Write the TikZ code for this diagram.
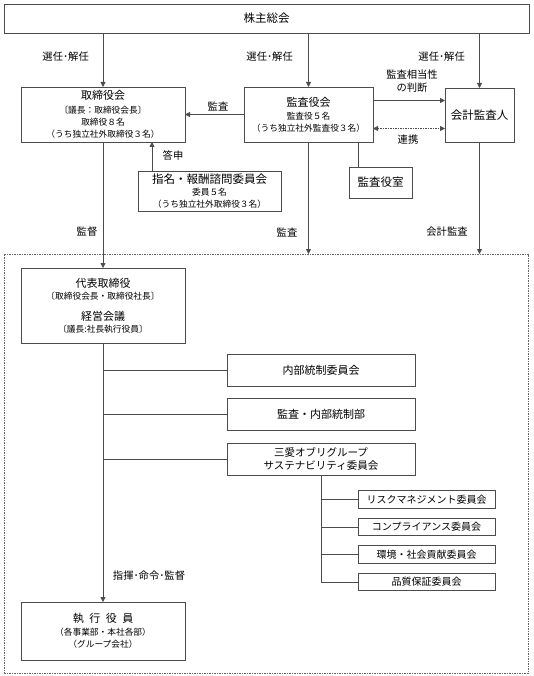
\documentclass[tikz,border=0pt]{standalone}
\usepackage{fontspec}
\setmainfont{Noto Sans CJK JP}
\usetikzlibrary{arrows.meta}

\newcommand{\bxbig}[1]{{\fontsize{11.5}{13}\selectfont #1}}
\newcommand{\bxttl}[1]{{\fontsize{11}{12.5}\selectfont #1}}

\tikzset{
	box/.style={draw=black!70, line width=0.8pt, inner sep=0pt, outer sep=0pt, align=center, font=\fontsize{8.7}{12}\selectfont},
	lbl/.style={font=\fontsize{10.3}{12.5}\selectfont, inner sep=0pt, align=center},
	ln/.style={draw=black!70, line width=0.8pt},
	arr/.style={ln, -{Triangle[length=5pt,width=5pt]}},
	renkei/.style={draw=black!70, line width=0.8pt, dash pattern=on 1.5pt off 1pt, {Triangle[length=5pt,width=5pt]}-{Triangle[length=5pt,width=5pt]}},
	frame/.style={draw=black!60, line width=0.8pt, dash pattern=on 1.5pt off 1pt, inner sep=0pt, outer sep=0pt}
}

\begin{document}
\begin{tikzpicture}[x=1pt, y=-1pt]
	\useasboundingbox (0,0) rectangle (533,676);
	% execution area
	\node[frame, minimum width=524pt, minimum height=419pt] (group) at (266,463.5) {};
	
	% top level
	\node[box, minimum width=525pt, minimum height=29pt] (soukai) at (266.5,18.5) {\bxbig{株主総会}};
	\node[box, minimum width=164pt, minimum height=55pt] (torishimari) at (103,114.5)
		{\bxttl{取締役会}\\[2pt]〔議長：取締役会長〕\\取締役８名\\（うち独立社外取締役３名）};
	\node[box, minimum width=129pt, minimum height=55pt] (kansayaku) at (308.5,114.5)
		{\bxttl{監査役会}\\[1pt]監査役５名\\（うち独立社外監査役３名）};
	\node[box, minimum width=69pt, minimum height=54pt] (kaikei) at (479.5,115) {\bxbig{会計監査人}};
	\node[box, minimum width=63pt, minimum height=31pt] (shitsu) at (380.5,182.5) {\bxbig{監査役室}};
	\node[box, minimum width=143pt, minimum height=40pt] (shimei) at (209.5,191)
		{\bxbig{指名・報酬諮問委員会}\\委員５名\\（うち独立社外取締役３名）};
	
	\foreach \x in {104, 308, 480}
	\node[lbl, anchor=east] at (\x-15, 57) {選任･解任};
	\draw[arr] (soukai.south -| torishimari.north) -- (torishimari.north);
	\draw[arr] (soukai.south -| kansayaku.north) -- (kansayaku.north);
	\draw[arr] (soukai.south -| kaikei.north) -- (kaikei.north);
	
	% audit relations
	\draw[arr] (kansayaku.west) -- (torishimari.east);
	\node[lbl] at (218,106) {監査};
	\draw[arr] ([yshift=14pt]kansayaku.east) -- ([yshift=14pt]kansayaku.east -| kaikei.west);
	\node[lbl] at (412,81) {監査相当性\\の判断};
	\draw[renkei] ([yshift=-14pt]kansayaku.east) -- ([yshift=-14pt]kansayaku.east -| kaikei.west);
	\node[lbl] at (408,140) {連携};
	\draw[ln] ([xshift=-22.5pt]shitsu.north) -- ([xshift=-22.5pt]shitsu.north |- kansayaku.south);
	\draw[arr] ([xshift=-57.5pt]shimei.north) -- ([xshift=-57.5pt]shimei.north |- torishimari.south);
	\node[lbl] at (173,156) {答申};
	
	% down into execution area
	\draw[arr] (kansayaku.south) -- (kansayaku.south |- group.north);
	\node[lbl] at (287,232) {監査};
	\draw[arr] (kaikei.south) -- (kaikei.south |- group.north);
	\node[lbl] at (447,232) {会計監査};
	
	\node[box, minimum width=164pt, minimum height=75pt] (daihyo) at (103,305.5)
		{\bxttl{代表取締役}\\〔取締役会長・取締役社長〕\\[9pt]\bxttl{経営会議}\\〔議長:社長執行役員〕};
	\draw[arr] (torishimari.south) -- (daihyo.north);
	\node[lbl] at (87,232) {監督};
	
	\node[box, minimum width=188pt, minimum height=32pt] (naibu) at (321,370) {\bxttl{内部統制委員会}};
	\node[box, minimum width=188pt, minimum height=32pt] (kansabu) at (321,414) {\bxttl{監査・内部統制部}};
	\node[box, minimum width=188pt, minimum height=32pt, font=\fontsize{10.5}{13}\selectfont] (sustain) at (321,459)
		{三愛オブリグループ\\サステナビリティ委員会};
	
	\node[box, minimum width=164pt, minimum height=58pt] (shikkou) at (103,631)
		{\bxttl{執\hspace{0.5em}行\hspace{0.5em}役\hspace{0.5em}員}\\[1pt]（各事業部・本社各部）\\（グループ会社）};
	\draw[arr] (daihyo.south) -- (shikkou.north);
	\node[lbl] at (149,576) {指揮･命令･監督};
	
	\foreach \n in {naibu, kansabu, sustain}
	\draw[ln] (\n.west) -- (\n.west -| daihyo.south);
	
	% committees
	\foreach \i/\y/\txt in {1/499.5/リスクマネジメント委員会, 2/527/コンプライアンス委員会, 3/554.5/環境・社会貢献委員会, 4/582/品質保証委員会}{
		\node[box, minimum width=137pt, minimum height=17.5pt, font=\fontsize{10}{11}\selectfont] (iin\i) at (426.5,\y) {\txt};
		\draw[ln] (iin\i.west) -- (iin\i.west -| sustain.south);
	}
	\draw[ln] (sustain.south) -- (sustain.south |- iin4.west);
	
\end{tikzpicture}
\end{document}
